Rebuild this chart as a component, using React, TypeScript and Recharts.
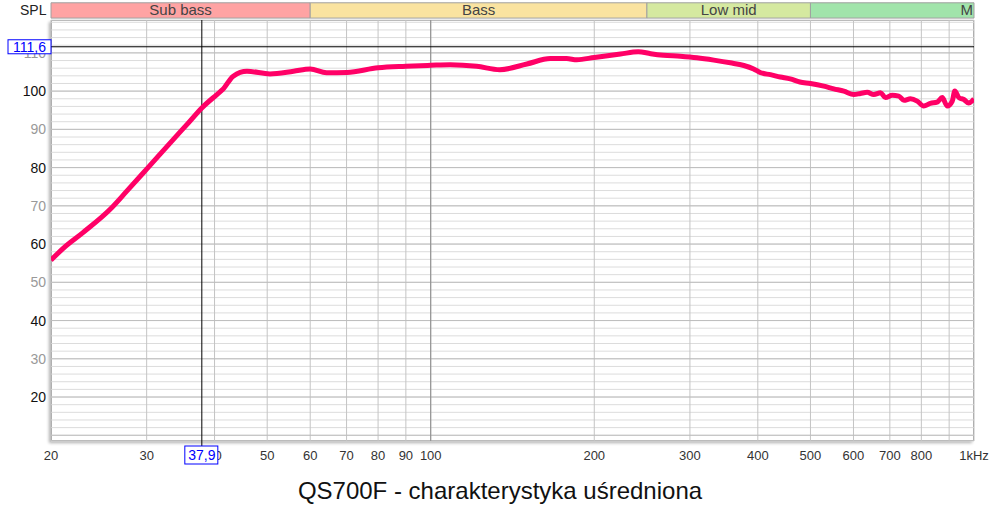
import { LineChart, Line, XAxis, YAxis, CartesianGrid, ReferenceLine, ReferenceArea } from "recharts";

const freqs = [
  20, 21.06, 22.9, 25.7, 27.6, 30, 33.6, 35.6, 37.9, 40.4, 41.4, 43.3, 45.9, 50.6, 55.9, 60, 64.3, 70.1, 80, 90,
  100, 108.6, 121.5, 134, 150.3, 166, 177.9, 185.8, 200, 223.5, 241, 254, 268, 288, 309, 332, 356, 377, 393, 405,
  422, 440, 459, 478, 500, 529, 552, 576, 601, 618, 636, 654, 673, 687, 707, 727, 743, 764, 786, 808, 831, 855,
  874, 893, 912, 922, 938, 958, 978, 1000,
];
const spl = [
  55.8, 58.9, 63.0, 69.1, 73.9, 79.6, 87.4, 91.3, 95.6, 99.1, 100.4, 103.9, 105.2, 104.5, 105.2, 105.8, 104.8, 104.9, 106.1, 106.5,
  106.75, 106.9, 106.5, 105.6, 107.1, 108.5, 108.5, 108.2, 108.8, 109.7, 110.3, 109.8, 109.4, 109.1, 108.7, 108.1, 107.4, 106.7, 105.8, 104.8,
  104.3, 103.7, 103.2, 102.4, 102.0, 101.3, 100.6, 100.0, 99.1, 99.4, 99.7, 99.1, 99.6, 98.3, 98.9, 98.7, 97.6, 98.0, 97.4, 96.1, 96.8, 97.1,
  98.3, 96.1, 97.4, 100.0, 98.3, 97.8, 96.9, 98.0,
];

const xTicks = [20, 30, 40, 50, 60, 70, 80, 90, 100, 200, 300, 400, 500, 600, 700, 800, 900, 1000];
const xLabels = ["20", "30", "40", "50", "60", "70", "80", "90", "100", "200", "300", "400", "500", "600", "700", "800", "", "1kHz"];
const yTicks = Array.from({ length: 55 }, (_, i) => 10 + i * 2);
const yLabels = [20, 30, 40, 50, 60, 70, 80, 90, 100, 110];
const yMajor = [10, 20, 30, 40, 50, 60, 70, 80, 90, 100, 110];

// frequency bands on top strip
const bandNames = ["Sub bass", "Bass", "Low mid", "M"];
const bandFrom = [20, 60, 250, 500];
const bandTo = [60, 250, 500, 1000];
const bandColors = ["#ffa3a3", "#fae3a0", "#d5e9a0", "#a1e4ab"];

const cursorFreq = 37.9;
const cursorSpl = 111.6;

const PLOT_BOTTOM = 441;
const data = freqs.map((f, i) => ({ f, spl: spl[i] }));
const font = "'Liberation Sans', Arial, sans-serif";
const comma = (v) => String(v).replace(".", ",");

const XTick = ({ x, y, payload }) => {
  const i = xTicks.indexOf(payload.value);
  return (
    <text x={x} y={y + 17} textAnchor="middle" fontSize={13} fontFamily={font} fill="#333">
      {xLabels[i]}
    </text>
  );
};

const YTick = ({ x, y, payload }) => {
  const v = payload.value;
  if (!yLabels.includes(v)) return null;
  return (
    <text x={x} y={y + 5} textAnchor="end" fontSize={14} fontFamily={font} fill={v % 20 === 0 ? "#111" : "#999"}>
      {v}
    </text>
  );
};

// cursor readouts drawn as ticks of extra axes so they sit above the normal tick labels
const FreqCursorTick = ({ x }) => (
  <g>
    <line x1={x} y1={PLOT_BOTTOM} x2={x} y2={PLOT_BOTTOM + 5} stroke="#000" />
    <rect x={x - 17} y={PLOT_BOTTOM + 5} width={33} height={18} fill="#fff" stroke="#0000ff" />
    <text x={x} y={PLOT_BOTTOM + 19} textAnchor="middle" fontSize={14} fontFamily={font} fill="#0000ff">
      {comma(cursorFreq)}
    </text>
  </g>
);

const SplCursorTick = ({ y }) => (
  <g>
    <rect x={8} y={y - 7} width={43} height={14} fill="#fff" stroke="#0000ff" />
    <text x={29.5} y={y + 5} textAnchor="middle" fontSize={14} fontFamily={font} fill="#0000ff">
      {comma(cursorSpl)}
    </text>
  </g>
);

const BandLabel = (name) => (props) => {
  const { x, y, width, height } = props.viewBox;
  const last = name === "M";
  return (
    <text
      x={last ? x + width - 1 : x + width / 2}
      y={y + height / 2 + 5}
      textAnchor={last ? "end" : "middle"}
      fontSize={15}
      fontFamily={font}
      fill="#444"
    >
      {name}
    </text>
  );
};

export default function App() {
  return (
    <div style={{ position: "absolute", left: 0, top: 0, width: 1000, height: 510, background: "#fff" }}>
      <div
        style={{
          position: "absolute",
          left: 51,
          top: 20,
          width: 923,
          height: 421,
          boxSizing: "border-box",
          border: "1px solid #9a9a9a",
          boxShadow: "-2px 2px 3px #b0b0b0",
        }}
      />
      <LineChart width={1000} height={510} data={data} margin={{ top: 19, right: 25, bottom: 39, left: 6 }}>
        <CartesianGrid stroke="#dcdcdc" vertical={false} />
        <CartesianGrid stroke="#c4c4c4" horizontal={false} />
        {yMajor.map((v) => (
          <ReferenceLine key={v} y={v} stroke="#bdbdbd" />
        ))}
        <ReferenceLine x={100} stroke="#8a8a8a" />
        {bandNames.map((n, i) => (
          <ReferenceArea
            key={n}
            x1={bandFrom[i]}
            x2={bandTo[i]}
            y1={119.1}
            y2={123.1}
            ifOverflow="visible"
            fill={bandColors[i]}
            fillOpacity={1}
            stroke="#a0a0a0"
            label={BandLabel(n)}
          />
        ))}
        <XAxis
          dataKey="f"
          type="number"
          scale="log"
          domain={[20, 1000]}
          ticks={xTicks}
          allowDataOverflow
          axisLine={false}
          tickLine={false}
          tickSize={0}
          tick={XTick}
          height={30}
          interval={0}
        />
        <XAxis
          xAxisId="cursor"
          orientation="top"
          dataKey="f"
          type="number"
          scale="log"
          domain={[20, 1000]}
          ticks={[cursorFreq]}
          allowDataOverflow
          axisLine={false}
          tickLine={false}
          tickSize={0}
          tick={FreqCursorTick}
          height={1}
          interval={0}
        />
        <YAxis
          type="number"
          domain={[8.5, 118.6]}
          ticks={yTicks}
          allowDataOverflow
          axisLine={false}
          tickLine={false}
          tickSize={0}
          tickMargin={5}
          tick={YTick}
          width={45}
          interval={0}
        />
        <YAxis
          yAxisId="cursor"
          orientation="right"
          type="number"
          domain={[8.5, 118.6]}
          ticks={[cursorSpl]}
          allowDataOverflow
          axisLine={false}
          tickLine={false}
          tickSize={0}
          tick={SplCursorTick}
          width={1}
          interval={0}
        />
        <ReferenceLine x={cursorFreq} stroke="#000" />
        <ReferenceLine y={cursorSpl} stroke="#000" />
        <Line
          type="monotone"
          dataKey="spl"
          stroke="#ff0066"
          strokeWidth={5}
          dot={false}
          isAnimationActive={false}
        />
      </LineChart>
      <div style={{ position: "absolute", left: 20, top: 2, fontFamily: font, fontSize: 14, color: "#222" }}>SPL</div>
      <div
        style={{
          position: "absolute",
          left: 0,
          width: 1000,
          top: 477,
          textAlign: "center",
          fontFamily: font,
          fontSize: 24,
          color: "#111",
        }}
      >
        QS700F - charakterystyka uśredniona
      </div>
    </div>
  );
}
